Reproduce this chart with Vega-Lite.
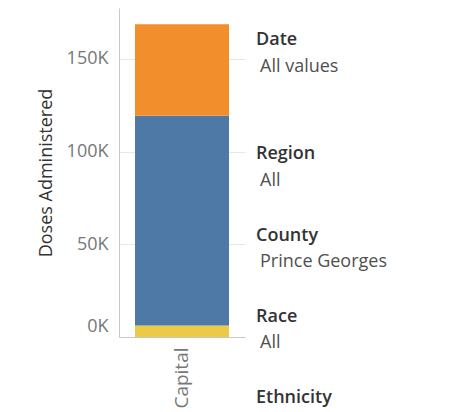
{
  "$schema": "https://vega.github.io/schema/vega-lite/v6.json",
  "background": "white",
  "padding": {"left": 37, "top": 8, "right": 0, "bottom": 0},
  "config": {"font": "Open Sans", "view": {"stroke": null}},
  "spacing": 11,
  "hconcat": [
    {
      "width": 126,
      "height": 329,
      "data": {"values": [
        {"region": "Capital", "dose": "Single Dose", "doses": 6200},
        {"region": "Capital", "dose": "First Dose", "doses": 113200},
        {"region": "Capital", "dose": "Second Dose", "doses": 49400}
      ]},
      "transform": [{"window": [{"op": "row_number", "as": "stackOrder"}]}],
      "mark": {"type": "bar"},
      "encoding": {
        "x": {
          "field": "region", "type": "nominal", "title": null,
          "scale": {"paddingInner": 0.254, "paddingOuter": 0.127},
          "axis": {"labelAngle": -90, "labelFontSize": 19, "labelColor": "#777777", "labelPadding": 10, "ticks": false, "domainColor": "#c8c8c8", "grid": false}
        },
        "y": {
          "field": "doses", "type": "quantitative", "title": "Doses Administered",
          "scale": {"domain": [0, 177500], "nice": false},
          "axis": {
            "values": [0, 50000, 100000, 150000],
            "labelExpr": "format(datum.value/1000,'d')+'K'",
            "labelFontSize": 18, "labelColor": "#777777", "labelPadding": 11,
            "ticks": false, "domainColor": "#c8c8c8", "gridColor": "#e8e8e8",
            "titleFontSize": 18, "titleFontWeight": "normal", "titleColor": "#333333", "titlePadding": 11,
            "labelFlush": true, "labelFlushOffset": -2
          }
        },
        "color": {
          "field": "dose", "type": "nominal", "legend": null,
          "scale": {"domain": ["Single Dose", "First Dose", "Second Dose"], "range": ["#EDC948", "#4E79A7", "#F28E2B"]}
        },
        "order": {"field": "stackOrder", "type": "quantitative"}
      }
    },
    {
      "width": 205,
      "height": 400,
      "data": {"values": [
        {"filter": "Date", "value": "All values"},
        {"filter": "Region", "value": "All"},
        {"filter": "County", "value": "Prince Georges"},
        {"filter": "Race", "value": "All"},
        {"filter": "Ethnicity", "value": ""}
      ]},
      "encoding": {
        "x": {"value": 0},
        "y": {"field": "filter", "type": "nominal", "axis": null,
              "scale": {"type": "point", "padding": 0, "domain": ["Date", "Region", "County", "Race", "Ethnicity"], "range": [70, 395]}}
      },
      "layer": [
        {"transform": [{"filter": "datum.filter === 'Date'"}],
         "mark": {"type": "text", "align": "left", "baseline": "alphabetic", "dy": -33, "fontSize": 18, "fontWeight": 600, "color": "#333333"},
         "encoding": {"text": {"field": "filter"}}},
        {"transform": [{"filter": "datum.filter !== 'Date'"}],
         "mark": {"type": "text", "align": "left", "baseline": "alphabetic", "fontSize": 18, "fontWeight": 600, "color": "#333333"},
         "encoding": {"text": {"field": "filter"}}},
        {"transform": [{"filter": "datum.filter === 'Date'"}],
         "mark": {"type": "text", "align": "left", "baseline": "alphabetic", "dx": 4, "dy": -6, "fontSize": 18, "color": "#505050"},
         "encoding": {"text": {"field": "value"}}},
        {"transform": [{"filter": "datum.filter !== 'Date'"}],
         "mark": {"type": "text", "align": "left", "baseline": "alphabetic", "dx": 4, "dy": 26.5, "fontSize": 18, "color": "#505050"},
         "encoding": {"text": {"field": "value"}}}
      ]
    }
  ]
}
